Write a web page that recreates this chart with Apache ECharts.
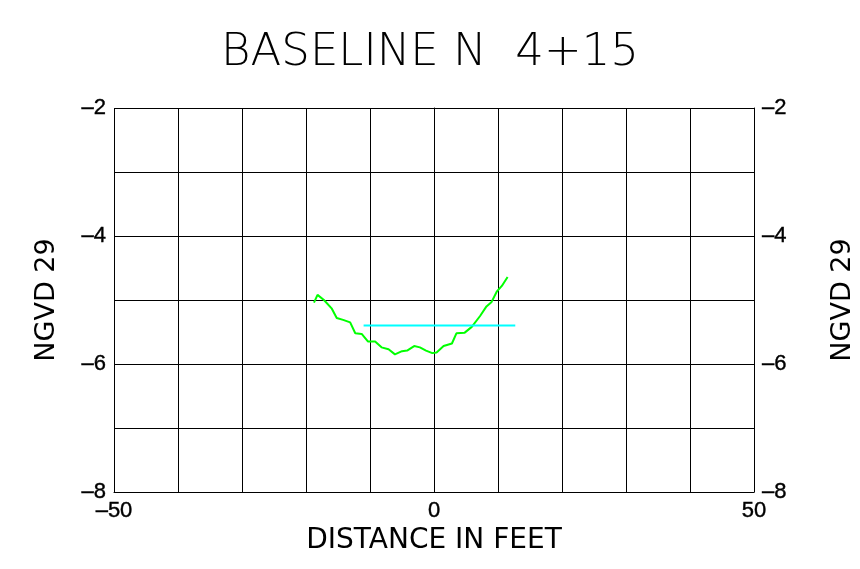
<!DOCTYPE html>
<html><head><meta charset="utf-8">
<script src="https://cdn.jsdelivr.net/npm/echarts@6/dist/echarts.min.js"></script>
<style>html,body{margin:0;padding:0;background:#fff}#c{width:860px;height:569px}</style>
</head><body><div id="c"></div>
<script>
const title = 'BASELINE N  4+15';
const xName = 'DISTANCE IN FEET';
const yName = 'NGVD 29';
const xShownTicks = [-50, 0, 50];
const yShownTicks = [-8, -6, -4, -2];
const profileX = [-18.75,-18.2,-17.2,-16.0,-15.2,-14.2,-13.1,-12.3,-11.3,-10.3,-9.2,-8.2,-7.1,-6.1,-5.0,-4.2,-3.1,-2.2,-1.25,-0.26,0.4,1.5,2.8,3.5,4.8,5.9,7.2,8.2,9.0,9.8,10.6,11.5];
const profileY = [-5.04,-4.92,-5.0,-5.13,-5.28,-5.31,-5.35,-5.52,-5.53,-5.65,-5.65,-5.74,-5.77,-5.85,-5.80,-5.79,-5.72,-5.74,-5.79,-5.83,-5.82,-5.72,-5.68,-5.52,-5.51,-5.42,-5.25,-5.10,-5.03,-4.87,-4.78,-4.64];
const waterX = [-11.0, 12.7];
const waterY = [-5.40, -5.40];

const fmtNum = v => (v < 0 ? '\u2013' + Math.abs(v) : String(v));
const chart = echarts.init(document.getElementById('c'));
const tickFont = {fontFamily:'Liberation Sans', fontSize:22, color:'#000', textBorderColor:'#000', textBorderWidth:0.4};
const nameFont = {fontFamily:'DejaVu Sans', fontWeight:'normal', fontSize:27, color:'#000'};
const yAxisBase = {
  type:'value', min:-8, max:-2, interval:1,
  name: yName, nameLocation:'middle', nameRotate:90,
  nameTextStyle:nameFont,
  axisLine:{show:true, lineStyle:{color:'#000', width:1}},
  axisTick:{show:false},
  splitLine:{show:true, lineStyle:{color:'#000', width:1}},
  axisLabel:Object.assign({margin:8, formatter:v => yShownTicks.includes(v) ? fmtNum(v) : ''}, tickFont)
};
chart.setOption({
  animation:false,
  backgroundColor:'#fff',
  title:{text:title, left:'center', top:26, textStyle:{fontFamily:'DejaVu Sans', fontWeight:200, fontSize:45, color:'#000'}},
  grid:{left:114, right:106, top:108, bottom:77, outerBoundsMode:'none', containLabel:false},
  xAxis:{
    type:'value', min:-50, max:50, interval:10,
    name:xName, nameLocation:'middle', nameGap:34,
    nameTextStyle:Object.assign({}, nameFont, {fontSize:28}),
    axisLine:{show:true, onZero:false, lineStyle:{color:'#000', width:1}},
    axisTick:{show:false},
    splitLine:{show:true, lineStyle:{color:'#000', width:1}},
    axisLabel:Object.assign({margin:8, formatter:v => xShownTicks.includes(v) ? fmtNum(v) : ''}, tickFont)
  },
  yAxis:[
    Object.assign({}, yAxisBase, {position:'left', nameGap:54}),
    Object.assign({}, yAxisBase, {position:'right', nameGap:75})
  ],
  series:[
    {type:'line', data:profileX.map((x,i)=>[x,profileY[i]]), symbol:'none', lineStyle:{color:'#00ff00', width:2}, yAxisIndex:0},
    {type:'line', data:waterX.map((x,i)=>[x,waterY[i]]), symbol:'none', lineStyle:{color:'#00ffff', width:2}, yAxisIndex:0}
  ]
});
</script></body></html>
